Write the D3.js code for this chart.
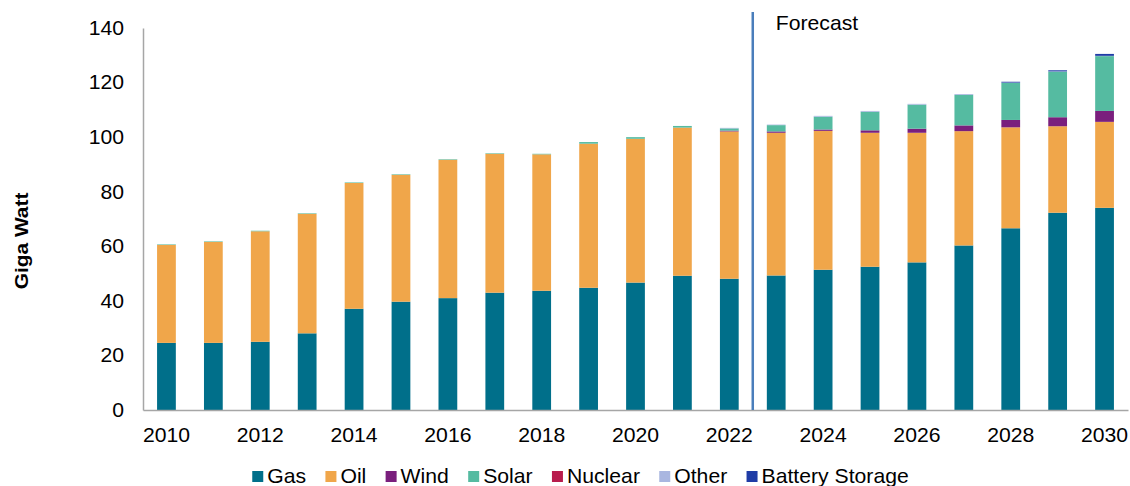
<!DOCTYPE html>
<html><head><meta charset="utf-8">
<script src="https://cdn.jsdelivr.net/npm/d3@7"></script>
<style>body{margin:0;background:#fff;}svg{display:block;font-family:"Liberation Sans",Arial,sans-serif;}</style>
</head><body>
<svg id="c" width="1130" height="486"></svg>
<script>
const years = [2010,2011,2012,2013,2014,2015,2016,2017,2018,2019,2020,2021,2022,2023,2024,2025,2026,2027,2028,2029,2030];
const gas     = [24.6,24.6,25.0,28.1,37.1,39.7,41.0,43.0,43.7,44.8,46.7,49.2,48.1,49.3,51.4,52.5,54.1,60.3,66.6,72.3,74.1];
const oil     = [35.9,37.0,40.5,43.8,46.1,46.5,50.7,50.9,50.0,52.8,52.7,54.3,54.0,52.3,50.9,49.1,47.5,41.9,37.0,31.7,31.5];
const wind    = [0,0,0,0,0,0,0,0,0,0,0,0,0.3,0.5,0.5,0.9,1.5,2.1,2.7,3.3,4.0];
const solar   = [0.2,0.2,0.2,0.2,0.2,0.2,0.2,0.2,0.2,0.6,0.6,0.6,0.8,2.3,4.7,6.8,8.8,11.2,13.6,16.7,20.1];
const nuclear = [0,0,0,0,0,0,0,0,0,0,0,0,0,0,0,0,0,0,0,0,0];
const other   = [0,0,0,0,0,0,0,0,0,0,0,0,0.2,0.2,0.3,0.3,0.3,0.3,0.1,0.1,0.1];
const battery = [0,0,0,0,0,0,0,0,0,0,0,0,0,0,0,0,0,0,0.3,0.4,0.7];
const seriesNames = ["Gas","Oil","Wind","Solar","Nuclear","Other","Battery Storage"];
const seriesValues = [gas,oil,wind,solar,nuclear,other,battery];
const colors = ["#006F8A","#F0A64A","#7A1F7D","#55BBA1","#B81C4D","#A9B6E0","#1F3CA6"];
const yTicks = [0,20,40,60,80,100,120,140];
const xTickYears = [2010,2012,2014,2016,2018,2020,2022,2024,2026,2028,2030];
const forecastLabel = "Forecast";
const yTitle = "Giga Watt";

const SX = 1.06; // horizontal text stretch
const svg = d3.select("#c");
const x = d3.scaleBand().domain(years).range([143,1128]).paddingInner(0.6).paddingOuter(0.3);
const y = d3.scaleLinear().domain([0,140]).range([410,28]);

const table = years.map((yr,i)=>{const o={year:yr}; seriesNames.forEach((s,k)=>o[s]=seriesValues[k][i]); return o;});
const stacked = d3.stack().keys(seriesNames)(table);

svg.append("g").selectAll("g").data(stacked).join("g")
  .attr("fill",(d,i)=>colors[i])
  .selectAll("rect").data(d=>d).join("rect")
  .attr("x",d=>x(d.data.year))
  .attr("width",x.bandwidth())
  .attr("y",d=>y(d[1]))
  .attr("height",d=>Math.max(0,y(d[0])-y(d[1])));

// axes
const yAxis = d3.axisLeft(y).tickValues(yTicks).tickSize(0).tickPadding(19);
const gy = svg.append("g").attr("transform","translate(143,0)").call(yAxis);
gy.select(".domain").attr("stroke","#a6a6a6").attr("stroke-width",1.5);
gy.selectAll("text").attr("font-size",20).attr("fill","#000").attr("font-family","Liberation Sans, Arial, sans-serif")
  .attr("x",-19/SX).attr("transform",`scale(${SX},1)`);

const xAxis = d3.axisBottom(x).tickValues(xTickYears).tickSize(0).tickPadding(18);
const gx = svg.append("g").attr("transform","translate(0,410)").call(xAxis);
gx.select(".domain").attr("stroke","#a6a6a6").attr("stroke-width",1.5);
gx.selectAll("text").attr("font-size",20).attr("fill","#000").attr("font-family","Liberation Sans, Arial, sans-serif")
  .attr("transform",`scale(${SX},1)`);

// forecast line
const fx = (x(2022)+x.bandwidth() + x(2023))/2;
svg.append("line").attr("x1",fx).attr("x2",fx).attr("y1",12).attr("y2",410)
  .attr("stroke","#4A7EBB").attr("stroke-width",2.5);
svg.append("text").attr("transform",`translate(${fx+23},30) scale(${SX},1)`).attr("font-size",20).text(forecastLabel);

// y title
svg.append("text").attr("transform","translate(28,241) rotate(-90) scale(1.1,1)")
  .attr("text-anchor","middle").attr("font-size",19).attr("font-weight","bold").text(yTitle);

// legend
const lg = svg.append("g");
let cx = 0;
seriesNames.forEach((n,i)=>{
  const g = lg.append("g").attr("transform",`translate(${cx},0)`);
  g.append("rect").attr("x",0).attr("y",-12).attr("width",11).attr("height",11).attr("fill",colors[i]);
  const t = g.append("text").attr("transform",`translate(15,0) scale(${SX},1)`).attr("font-size",20).text(n);
  cx += 15 + t.node().getComputedTextLength()*SX + 19.3;
});
const totalW = cx - 19.3;
lg.attr("transform",`translate(${580.5-totalW/2},483)`);
</script>
</body></html>
